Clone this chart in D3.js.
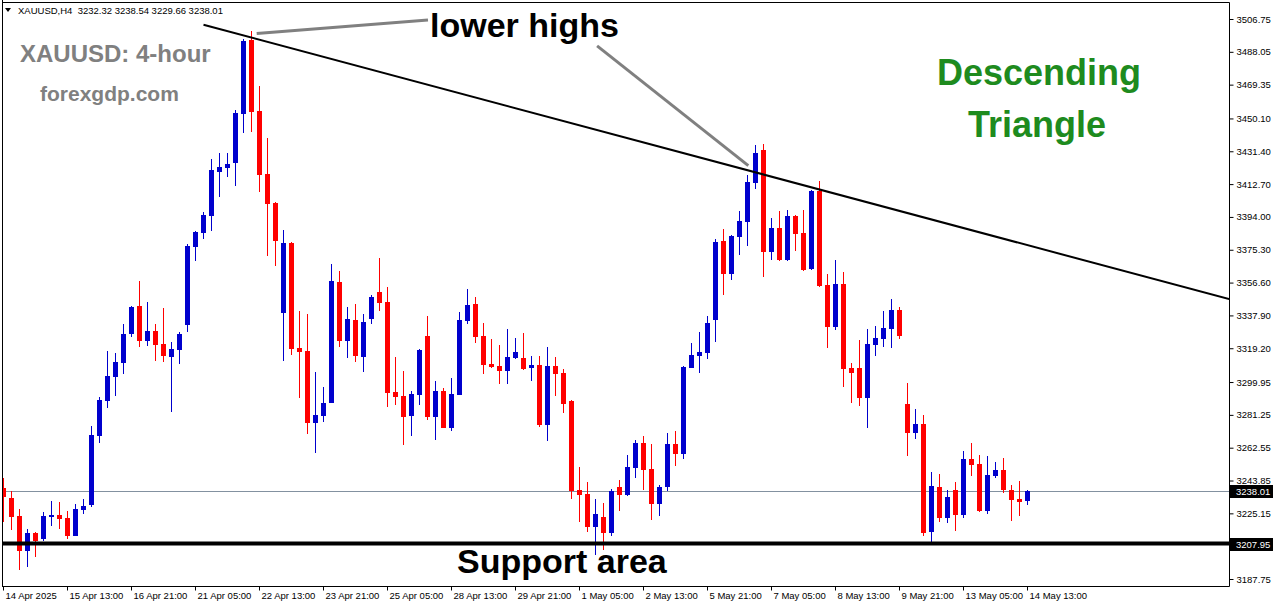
<!DOCTYPE html>
<html><head><meta charset="utf-8">
<script src="https://cdn.jsdelivr.net/npm/d3@7"></script>
<style>html,body{margin:0;padding:0;background:#fff;overflow:hidden}svg{display:block}</style>
</head><body><svg id="c" width="1276" height="604"></svg>
<script>
// ---- data (XAUUSD H4) ----
const opens = [3239.59,3233.89,3223.64,3203.87,3213.95,3210.71,3223.24,3224.21,3222.50,3212.41,3227.22,3229.90,3269.38,3289.14,3302.99,3310.96,3327.48,3343.26,3323.49,3329.02,3321.61,3314.38,3318.37,3332.61,3377.04,3385.01,3394.70,3419.76,3422.04,3424.89,3452.80,3494.78,3454.34,3418.45,3402.11,3339.44,3379.32,3319.33,3317.80,3276.78,3280.77,3288.18,3357.10,3323.49,3335.46,3314.38,3335.84,3351.24,3345.54,3294.27,3291.99,3280.77,3292.73,3326.17,3280.20,3294.84,3273.93,3292.73,3334.89,3344.40,3326.17,3310.22,3309.09,3306.41,3313.81,3313.64,3307.77,3309.65,3275.47,3309.08,3305.10,3289.31,3238.45,3236.34,3217.54,3223.07,3214.12,3240.16,3235.77,3250.98,3265.22,3250.41,3230.64,3240.16,3264.65,3259.13,3308.10,3314.78,3316.66,3335.45,3380.29,3361.66,3382.74,3391.28,3413.50,3432.12,3374.19,3387.69,3369.63,3394.53,3384.84,3364.50,3408.77,3355.22,3331.47,3355.79,3307.94,3307.94,3291.02,3321.20,3324.60,3330.40,3340.98,3287.44,3271.09,3276.04,3214.50,3240.16,3222.67,3238.45,3224.38,3256.10,3253.26,3226.65,3246.59,3249.84,3238.45,3233.13,3232.32];
const highs = [3245.28,3237.88,3227.62,3216.23,3214.69,3225.91,3232.18,3231.61,3226.48,3230.47,3233.32,3274.90,3291.42,3317.63,3316.49,3333.01,3343.00,3357.50,3345.54,3333.01,3342.12,3322.75,3328.45,3378.58,3386.15,3396.64,3427.00,3430.42,3430.42,3454.91,3495.35,3500.05,3468.58,3439.13,3402.68,3386.55,3379.89,3340.58,3338.88,3305.84,3297.29,3367.18,3363.37,3342.86,3344.57,3338.70,3349.53,3370.56,3354.09,3314.21,3306.23,3295.01,3318.94,3337.73,3300.54,3296.55,3302.25,3340.01,3352.95,3348.39,3333.58,3324.63,3321.04,3330.16,3325.03,3327.88,3314.78,3314.78,3319.91,3314.21,3307.37,3289.90,3251.72,3242.99,3233.32,3231.04,3239.02,3244.14,3258.38,3266.93,3269.21,3264.65,3241.47,3270.92,3272.06,3309.08,3322.18,3328.45,3337.56,3381.43,3387.12,3383.50,3397.38,3417.88,3434.97,3435.50,3393.39,3397.38,3397.95,3394.90,3397.95,3409.34,3414.47,3361.49,3369.46,3362.63,3310.79,3323.89,3330.16,3331.87,3340.41,3347.25,3342.69,3299.40,3284.59,3281.16,3248.70,3247.56,3238.45,3242.99,3260.66,3265.22,3258.38,3257.81,3254.40,3256.67,3241.30,3243.56,3238.54];
const lows = [3220.39,3215.66,3192.88,3194.76,3200.45,3209.57,3217.94,3216.40,3210.71,3212.00,3224.95,3228.94,3265.39,3285.33,3292.16,3304.70,3325.77,3320.08,3320.65,3312.10,3311.53,3283.05,3310.39,3328.62,3369.06,3381.60,3386.15,3405.52,3416.91,3411.79,3441.98,3442.55,3408.37,3371.91,3366.22,3312.10,3315.52,3291.02,3270.52,3259.69,3277.35,3287.80,3320.08,3313.81,3311.53,3305.84,3333.18,3340.41,3285.90,3287.04,3264.25,3269.38,3287.04,3278.49,3267.10,3273.50,3272.22,3292.40,3333.18,3322.35,3304.70,3308.10,3298.99,3298.99,3313.20,3307.00,3300.70,3274.33,3266.53,3291.99,3282.48,3233.49,3220.39,3214.69,3201.59,3204.44,3212.41,3226.65,3235.20,3245.28,3238.45,3221.52,3223.60,3237.70,3252.29,3256.27,3307.90,3305.10,3313.24,3322.92,3349.70,3358.24,3372.31,3377.61,3410.08,3359.95,3369.63,3369.06,3369.06,3374.76,3363.37,3364.00,3354.25,3319.51,3329.80,3297.29,3288.18,3286.47,3273.93,3314.95,3320.08,3319.50,3324.60,3257.98,3267.67,3212.41,3208.08,3220.39,3219.82,3215.26,3222.67,3246.59,3226.20,3224.95,3245.45,3236.91,3220.96,3223.60,3229.66];
const closes = [3234.29,3223.24,3203.87,3213.95,3209.57,3223.64,3224.38,3222.10,3212.41,3227.62,3229.33,3269.78,3289.71,3303.39,3311.36,3327.31,3342.69,3323.49,3329.02,3321.22,3314.95,3318.77,3327.31,3377.44,3385.41,3395.10,3420.73,3422.44,3424.15,3453.20,3494.21,3453.94,3418.05,3401.53,3380.46,3379.32,3318.94,3317.23,3276.78,3281.34,3288.18,3357.50,3323.49,3336.03,3314.95,3334.15,3348.39,3345.14,3293.87,3291.59,3280.20,3293.13,3318.37,3280.20,3294.84,3273.93,3293.13,3335.29,3343.83,3325.77,3309.82,3308.69,3306.41,3314.21,3317.06,3307.54,3309.65,3275.47,3309.08,3304.70,3287.61,3238.09,3235.77,3217.54,3224.78,3214.12,3238.09,3235.77,3251.55,3265.22,3249.84,3230.64,3240.16,3264.65,3259.13,3308.51,3315.35,3317.06,3333.58,3379.72,3361.66,3383.14,3391.68,3413.90,3430.42,3374.19,3387.69,3369.63,3394.53,3384.44,3363.94,3408.77,3354.82,3331.47,3355.79,3307.54,3305.27,3291.02,3321.61,3325.03,3330.73,3340.98,3326.34,3271.09,3276.04,3214.12,3240.73,3222.67,3234.46,3224.38,3256.10,3252.86,3226.65,3246.99,3249.84,3238.62,3232.92,3231.60,3238.01];
const xTickLabels = ["14 Apr 2025","15 Apr 13:00","16 Apr 21:00","21 Apr 05:00","22 Apr 13:00","23 Apr 21:00","25 Apr 05:00","28 Apr 13:00","29 Apr 21:00","1 May 05:00","2 May 13:00","5 May 21:00","7 May 05:00","8 May 13:00","9 May 21:00","13 May 05:00","14 May 13:00"];
const xTickBars = [0,8,16,24,32,40,48,56,64,72,80,88,96,104,112,120,128];
const yTickLabels = ["3506.75","3488.05","3469.35","3450.10","3431.40","3412.70","3394.00","3375.30","3356.60","3337.90","3319.20","3299.95","3281.25","3262.55","3243.85","3225.15","3206.45","3187.75"];
const lastPrice = 3238.01;
const supportPrice = 3207.95;
const trendBars = [25, 153.2];
const trendPrices = [3503.5, 3347.2];
const pointerA = {bars:[31.65, 53.06], prices:[3498.5, 3506.2]};
const pointerB = {bars:[74.2, 93.1], prices:[3491.4, 3423.2]};
const headerText = "XAUUSD,H4  3232.32 3238.54 3229.66 3238.01";

// ---- layout ----
const svg = d3.select("#c");
const L = 2, R = 1229, T = 2, B = 586;
const SMALL = "'Liberation Sans', Arial, sans-serif";
const x = d3.scaleLinear().domain([0, 128]).range([3.5, 1027.5]);
const y = d3.scaleLinear().domain([3187.75, 3506.75]).range([579, 19]);
const UP = "#0000CD", DN = "#FF0000";

svg.append("defs").append("clipPath").attr("id","plot")
  .append("rect").attr("x",L).attr("y",T).attr("width",R-L).attr("height",B-T);

const g = svg.append("g").attr("clip-path","url(#plot)");

// last price line
g.append("line").attr("x1",L).attr("x2",R).attr("y1",Math.round(y(lastPrice))+0.5).attr("y2",Math.round(y(lastPrice))+0.5)
  .attr("stroke","#8391a0").attr("stroke-width",1);

const bars = d3.range(opens.length);
const cg = g.append("g").attr("shape-rendering","crispEdges");
cg.selectAll("line.w").data(bars).join("line").attr("class","w")
  .attr("x1",i=>x(i)).attr("x2",i=>x(i))
  .attr("y1",i=>Math.round(y(highs[i]))).attr("y2",i=>Math.round(y(lows[i])))
  .attr("stroke",i=>closes[i]>=opens[i]?UP:DN).attr("stroke-width",1);
cg.selectAll("rect.b").data(bars).join("rect").attr("class","b")
  .attr("x",i=>x(i)-2.5).attr("width",5)
  .attr("y",i=>Math.round(y(Math.max(opens[i],closes[i]))))
  .attr("height",i=>Math.max(1, Math.round(Math.abs(y(opens[i])-y(closes[i])))))
  .attr("fill",i=>closes[i]>=opens[i]?UP:DN);

// support line
g.append("line").attr("x1",L).attr("x2",R).attr("y1",y(supportPrice)).attr("y2",y(supportPrice))
  .attr("stroke","#000").attr("stroke-width",4);

// trendline
g.append("line").attr("x1",x(trendBars[0])).attr("y1",y(trendPrices[0]))
  .attr("x2",x(trendBars[1])).attr("y2",y(trendPrices[1]))
  .attr("stroke","#000").attr("stroke-width",2);

// pointers
[pointerA, pointerB].forEach(p=>{
  g.append("line").attr("x1",x(p.bars[0])).attr("y1",y(p.prices[0]))
   .attr("x2",x(p.bars[1])).attr("y2",y(p.prices[1]))
   .attr("stroke","#808080").attr("stroke-width",3);
});

// frame
svg.append("line").attr("x1",L+0.5).attr("x2",L+0.5).attr("y1",0).attr("y2",B+0.5).attr("stroke","#000");
svg.append("line").attr("x1",L).attr("x2",R+0.5).attr("y1",B+0.5).attr("y2",B+0.5).attr("stroke","#000");
svg.append("line").attr("x1",R+0.5).attr("x2",R+0.5).attr("y1",T+0.5).attr("y2",B+0.5).attr("stroke","#000");
svg.append("line").attr("x1",L).attr("x2",R+0.5).attr("y1",T+0.5).attr("y2",T+0.5).attr("stroke","#000");

// axes
const yAxis = d3.axisRight(y).tickValues(yTickLabels.map(Number)).tickFormat((d,i)=>yTickLabels[i]).tickSize(4).tickPadding(3);
const ya = svg.append("g").attr("transform",`translate(${R+0.5},0)`).call(yAxis);
ya.select(".domain").remove();
ya.selectAll("text").attr("font-family",SMALL).attr("font-size","9.5px").attr("fill","#000");
ya.selectAll("line").attr("stroke","#000");

const xAxis = d3.axisBottom(x).tickValues(xTickBars).tickFormat((d,i)=>xTickLabels[i]).tickSize(4).tickPadding(2);
const xa = svg.append("g").attr("transform",`translate(-0.5,${B+0.5})`).call(xAxis);
xa.select(".domain").remove();
xa.selectAll("text").attr("text-anchor","start").attr("dx","2")
  .attr("font-family",SMALL).attr("font-size","9.5px").attr("fill","#000");
xa.selectAll("line").attr("stroke","#000");

// price boxes
[lastPrice, supportPrice].forEach(p=>{
  const yy = Math.round(y(p));
  svg.append("rect").attr("x",R+1).attr("y",yy-6).attr("width",43).attr("height",13).attr("fill","#000");
  svg.append("text").attr("x",R+7).attr("y",yy+4).text(p.toFixed(2))
    .attr("font-family",SMALL).attr("font-size","9.5px").attr("fill","#fff");
});

// header
svg.append("path").attr("d","M5,8 L11,8 L8,12 Z").attr("fill","#000");
svg.append("text").attr("x",18).attr("y",14).text(headerText).style("white-space","pre")
  .attr("font-family",SMALL).attr("font-size","9.5px").attr("fill","#000");

// annotations
const ann = (t,xx,yy,size,color,anchor)=>svg.append("text").attr("x",xx).attr("y",yy).text(t)
  .attr("font-family","'Liberation Sans', Arial, sans-serif").attr("font-weight","bold")
  .attr("font-size",size+"px").attr("fill",color).attr("text-anchor",anchor||"start");
ann("XAUUSD: 4-hour",20,62,24,"#808080");
ann("forexgdp.com",40,101,21,"#808080");
ann("lower highs",430,37,34,"#000");
ann("Support area",457,573,34,"#000");
ann("Descending",1039,85,36,"#1E8B1E","middle");
ann("Triangle",1037,137,36,"#1E8B1E","middle");
</script></body></html>
